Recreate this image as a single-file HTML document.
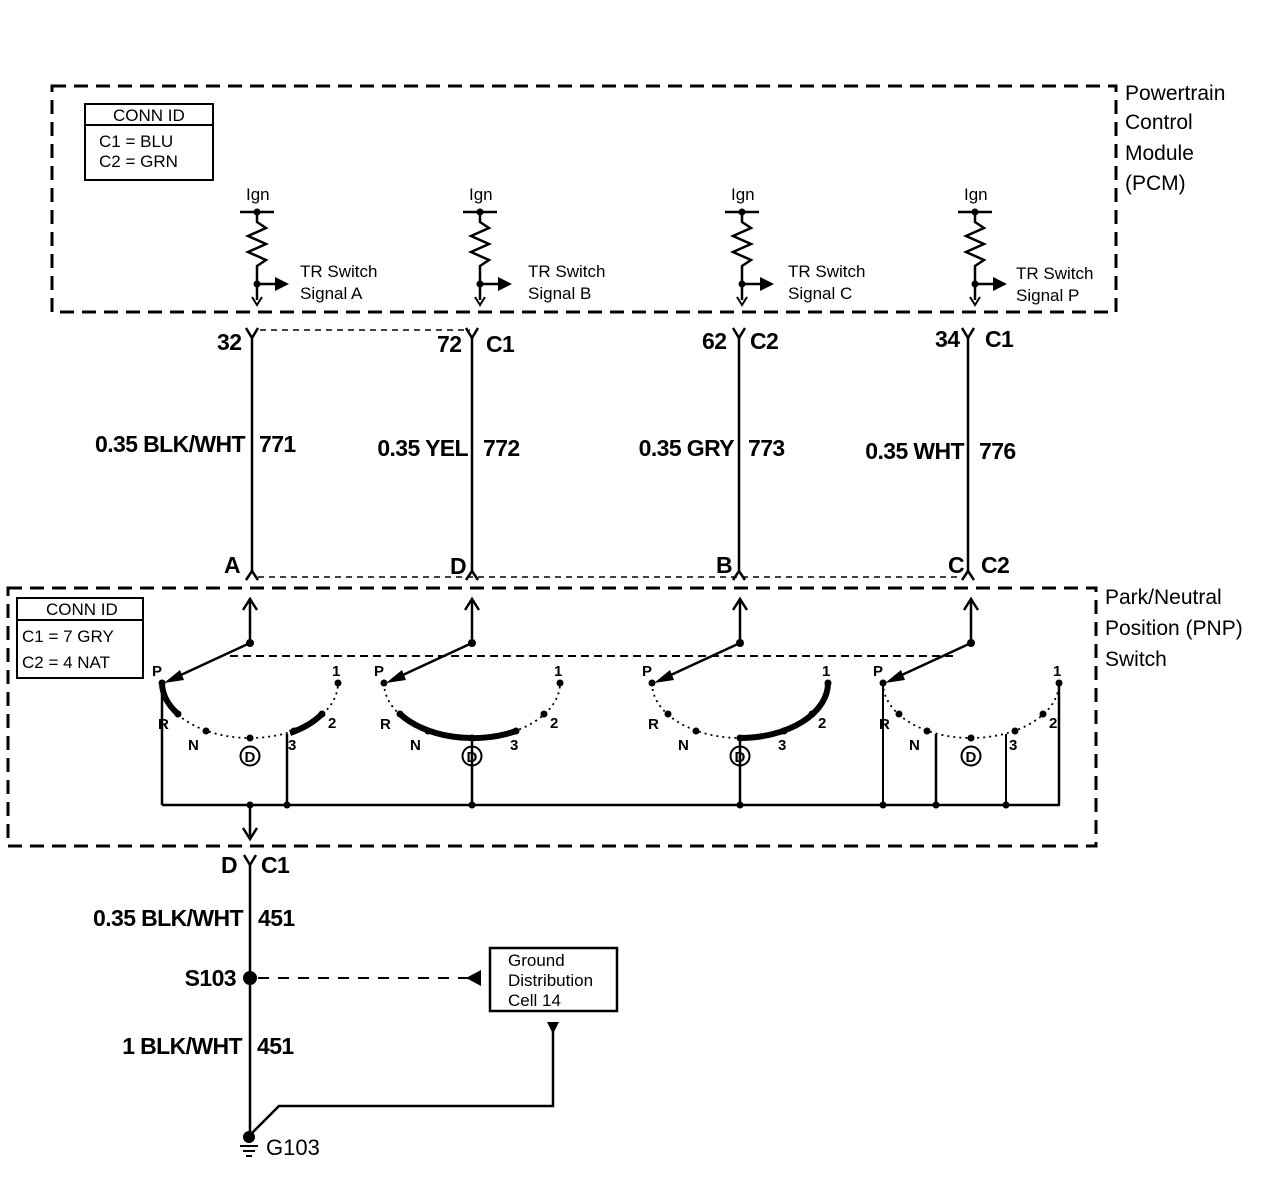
<!DOCTYPE html>
<html><head><meta charset="utf-8"><style>
html,body{margin:0;padding:0;background:#fff;}
svg{display:block;}
text{font-family:"Liberation Sans",Arial,sans-serif;fill:#000;}
.lg{font-size:23px;font-weight:bold;letter-spacing:-0.6px;}
.md{font-size:17px;}
.sm{font-size:15px;font-weight:bold;}
</style></head><body>
<svg width="1280" height="1178" viewBox="0 0 1280 1178" xmlns="http://www.w3.org/2000/svg">
<defs>
<g id="res">
  <line x1="-17" y1="212" x2="17" y2="212" stroke="#000" stroke-width="2.5"/>
  <circle cx="0" cy="212" r="3.5"/>
  <polyline points="0,212 0,222 9,228 -9,236 9,244 -9,252 9,260 0,266 0,300" fill="none" stroke="#000" stroke-width="2.5"/>
  <circle cx="0" cy="284" r="3.5"/>
  <line x1="0" y1="284" x2="20" y2="284" stroke="#000" stroke-width="2.5"/>
  <polygon points="18,277 32,284 18,291"/>
  <polyline points="-5,297 0,305 5,297" fill="none" stroke="#000" stroke-width="2"/>
</g>
<g id="sw">
  <line x1="0" y1="643" x2="0" y2="600" stroke="#000" stroke-width="2.5"/>
  <polyline points="-7,610 0,599 7,610" fill="none" stroke="#000" stroke-width="2.5"/>
  <circle cx="0" cy="643" r="4"/>
  <line x1="0" y1="643" x2="-80" y2="680" stroke="#000" stroke-width="2.5"/>
  <polygon points="-86,683 -70,670 -66,680"/>
  <path d="M-88,683 A88 55 0 0 0 88,683" fill="none" stroke="#000" stroke-width="1.8" stroke-dasharray="2 4"/>
  <circle cx="-88" cy="683" r="3.5"/><circle cx="-72" cy="714" r="3.5"/><circle cx="-44" cy="731" r="3.5"/>
  <circle cx="0" cy="738" r="3.5"/><circle cx="44" cy="731" r="3.5"/><circle cx="72" cy="714" r="3.5"/><circle cx="88" cy="683" r="3.5"/>
  <text class="sm" x="-98" y="676">P</text><text class="sm" x="82" y="676">1</text>
  <text class="sm" x="-92" y="729">R</text><text class="sm" x="-62" y="750">N</text>
  <circle cx="0" cy="756" r="9.5" fill="none" stroke="#000" stroke-width="2"/>
  <text class="sm" x="-5.5" y="762">D</text>
  <text class="sm" x="38" y="750">3</text><text class="sm" x="78" y="728">2</text>
</g>
</defs>
<!-- PCM box -->
<rect x="52" y="86" width="1064" height="226" fill="none" stroke="#000" stroke-width="3" stroke-dasharray="14 8"/>
<rect x="85" y="104" width="128" height="76" fill="none" stroke="#000" stroke-width="2"/>
<line x1="85" y1="125" x2="213" y2="125" stroke="#000" stroke-width="2"/>
<text class="md" x="113" y="121">CONN ID</text>
<text class="md" x="99" y="147">C1 = BLU</text>
<text class="md" x="99" y="167">C2 = GRN</text>
<text style="font-size:21px" x="1125" y="100">Powertrain</text>
<text style="font-size:21px" x="1125" y="129">Control</text>
<text style="font-size:21px" x="1125" y="160">Module</text>
<text style="font-size:21px" x="1125" y="190">(PCM)</text>

<g transform="translate(257,0)"><use href="#res"/><text class="md" x="-11" y="200">Ign</text><text class="md" x="43" y="277">TR Switch</text><text class="md" x="43" y="299">Signal A</text></g>
<g transform="translate(480,0)"><use href="#res"/><text class="md" x="-11" y="200">Ign</text><text class="md" x="48" y="277">TR Switch</text><text class="md" x="48" y="299">Signal B</text></g>
<g transform="translate(742,0)"><use href="#res"/><text class="md" x="-11" y="200">Ign</text><text class="md" x="46" y="277">TR Switch</text><text class="md" x="46" y="299">Signal C</text></g>
<g transform="translate(975,0)"><use href="#res"/><text class="md" x="-11" y="200">Ign</text><text class="md" x="41" y="279">TR Switch</text><text class="md" x="41" y="301">Signal P</text></g>

<!-- upper connectors -->
<line x1="260" y1="330" x2="470" y2="330" stroke="#000" stroke-width="1.5" stroke-dasharray="6 5"/>
<g stroke="#000" stroke-width="2.5" fill="none">
<polyline points="246,328 252,338 258,328"/><polyline points="466,328 472,338 478,328"/>
<polyline points="733,328 739,338 745,328"/><polyline points="962,328 968,338 974,328"/>
<line x1="252" y1="336" x2="252" y2="572"/><line x1="472" y1="336" x2="472" y2="572"/>
<line x1="739" y1="336" x2="739" y2="572"/><line x1="968" y1="336" x2="968" y2="572"/>
<polyline points="246,580 252,571 258,580"/><polyline points="466,580 472,571 478,580"/>
<polyline points="733,580 739,571 745,580"/><polyline points="962,580 968,571 974,580"/>
</g>
<text class="lg" x="217" y="350">32</text>
<text class="lg" x="437" y="352">72</text><text class="lg" x="486" y="352">C1</text>
<text class="lg" x="702" y="349">62</text><text class="lg" x="750" y="349">C2</text>
<text class="lg" x="935" y="347">34</text><text class="lg" x="985" y="347">C1</text>

<text class="lg" x="245" y="452" text-anchor="end">0.35 BLK/WHT</text><text class="lg" x="259" y="452">771</text>
<text class="lg" x="468" y="456" text-anchor="end">0.35 YEL</text><text class="lg" x="483" y="456">772</text>
<text class="lg" x="734" y="456" text-anchor="end">0.35 GRY</text><text class="lg" x="748" y="456">773</text>
<text class="lg" x="964" y="459" text-anchor="end">0.35 WHT</text><text class="lg" x="979" y="459">776</text>

<line x1="258" y1="577" x2="962" y2="577" stroke="#000" stroke-width="1.5" stroke-dasharray="6 5"/>
<text class="lg" x="224" y="573">A</text><text class="lg" x="450" y="574">D</text>
<text class="lg" x="716" y="573">B</text><text class="lg" x="948" y="573">C</text><text class="lg" x="981" y="573">C2</text>

<!-- PNP box -->
<rect x="8" y="588" width="1088" height="258" fill="none" stroke="#000" stroke-width="3" stroke-dasharray="14 8"/>
<rect x="17" y="598" width="126" height="80" fill="none" stroke="#000" stroke-width="2"/>
<line x1="17" y1="620" x2="143" y2="620" stroke="#000" stroke-width="2"/>
<text class="md" x="46" y="615">CONN ID</text>
<text class="md" x="22" y="642">C1 = 7 GRY</text>
<text class="md" x="22" y="668">C2 = 4 NAT</text>
<text style="font-size:21px" x="1105" y="604">Park/Neutral</text>
<text style="font-size:21px" x="1105" y="635">Position (PNP)</text>
<text style="font-size:21px" x="1105" y="666">Switch</text>

<line x1="230" y1="656" x2="955" y2="656" stroke="#000" stroke-width="2" stroke-dasharray="8 5"/>

<g transform="translate(250,0)"><use href="#sw"/>
  <path d="M-88,683 A88 55 0 0 0 -72,714" fill="none" stroke="#000" stroke-width="6"/>
  <path d="M40,733 A88 55 0 0 0 72,714" fill="none" stroke="#000" stroke-width="6"/>
  <line x1="-88" y1="683" x2="-88" y2="805" stroke="#000" stroke-width="2.5"/>
  <line x1="37" y1="734" x2="37" y2="805" stroke="#000" stroke-width="2.5"/>
  <circle cx="37" cy="805" r="3.5"/><circle cx="0" cy="805" r="3.5"/>
  <line x1="0" y1="805" x2="0" y2="838" stroke="#000" stroke-width="2.5"/>
  <polyline points="-7,828 0,839 7,828" fill="none" stroke="#000" stroke-width="2.5"/>
</g>
<g transform="translate(472,0)"><use href="#sw"/>
  <path d="M-72,714 A88 55 0 0 0 44,731" fill="none" stroke="#000" stroke-width="6"/>
  <line x1="0" y1="738" x2="0" y2="805" stroke="#000" stroke-width="2.5"/><circle cx="0" cy="805" r="3.5"/>
</g>
<g transform="translate(740,0)"><use href="#sw"/>
  <path d="M0,738 A88 55 0 0 0 88,683" fill="none" stroke="#000" stroke-width="6"/>
  <line x1="0" y1="738" x2="0" y2="805" stroke="#000" stroke-width="2.5"/><circle cx="0" cy="805" r="3.5"/>
</g>
<g transform="translate(971,0)"><use href="#sw"/>
  <line x1="-88" y1="683" x2="-88" y2="805" stroke="#000" stroke-width="2"/>
  <line x1="-35" y1="734" x2="-35" y2="805" stroke="#000" stroke-width="2.5"/>
  <line x1="35" y1="734" x2="35" y2="805" stroke="#000" stroke-width="2"/>
  <line x1="88" y1="683" x2="88" y2="805" stroke="#000" stroke-width="2.5"/>
  <circle cx="-88" cy="805" r="3.5"/><circle cx="-35" cy="805" r="3.5"/><circle cx="35" cy="805" r="3.5"/>
</g>
<line x1="162" y1="805" x2="1060" y2="805" stroke="#000" stroke-width="2.5"/>

<!-- bottom -->
<polyline points="244,855 250,865 256,855" fill="none" stroke="#000" stroke-width="2.5"/>
<line x1="250" y1="863" x2="250" y2="1137" stroke="#000" stroke-width="2.5"/>
<text class="lg" x="221" y="873">D</text><text class="lg" x="261" y="873">C1</text>
<text class="lg" x="243" y="926" text-anchor="end">0.35 BLK/WHT</text><text class="lg" x="258" y="926">451</text>
<circle cx="250" cy="978" r="7"/>
<text class="lg" x="236" y="986" text-anchor="end">S103</text>
<line x1="258" y1="978" x2="468" y2="978" stroke="#000" stroke-width="2" stroke-dasharray="11 9"/>
<polygon points="481,970 466,978 481,986"/>
<rect x="490" y="948" width="127" height="63" fill="none" stroke="#000" stroke-width="2.5"/>
<text class="md" x="508" y="966">Ground</text>
<text class="md" x="508" y="986">Distribution</text>
<text class="md" x="508" y="1006">Cell 14</text>
<polygon points="547,1022 559,1022 553,1034"/>
<polyline points="553,1030 553,1106 279,1106 250,1135" fill="none" stroke="#000" stroke-width="2.5"/>
<text class="lg" x="242" y="1054" text-anchor="end">1 BLK/WHT</text><text class="lg" x="257" y="1054">451</text>
<circle cx="249" cy="1137" r="6"/>
<line x1="240" y1="1146" x2="258" y2="1146" stroke="#000" stroke-width="2"/>
<line x1="243" y1="1151" x2="255" y2="1151" stroke="#000" stroke-width="2"/>
<line x1="246" y1="1156" x2="252" y2="1156" stroke="#000" stroke-width="2"/>
<text style="font-size:22px" x="266" y="1155">G103</text>
</svg>
</body></html>
